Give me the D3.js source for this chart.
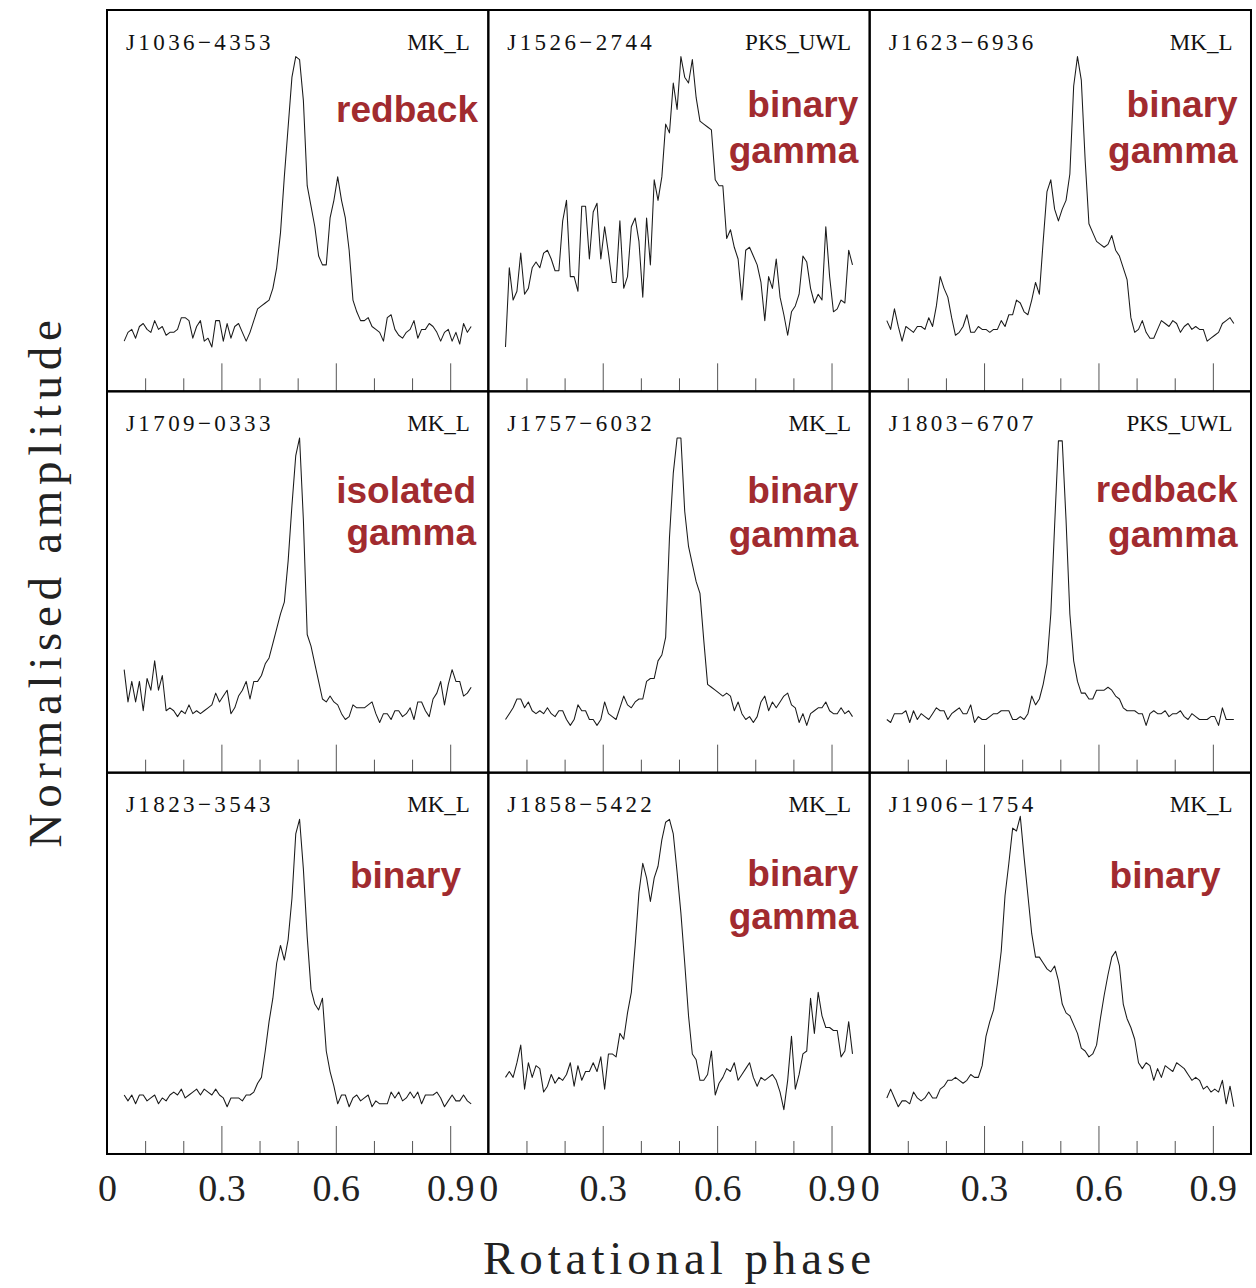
<!DOCTYPE html>
<html><head><meta charset="utf-8">
<script src="https://cdn.jsdelivr.net/npm/d3@7"></script>
<style>body{margin:0;background:#fff}</style>
</head><body>
<svg id="chart" width="1256" height="1288"></svg>
<script>
// ---------------- data ----------------
const pulsars = ["J1036\u22124353","J1526\u22122744","J1623\u22126936","J1709\u22120333","J1757\u22126032","J1803\u22126707","J1823\u22123543","J1858\u22125422","J1906\u22121754"];
const backends = ["MK_L","PKS_UWL","MK_L","MK_L","MK_L","PKS_UWL","MK_L","MK_L","MK_L"];
const classes = [["redback"],["binary","gamma"],["binary","gamma"],["isolated","gamma"],["binary","gamma"],["redback","gamma"],["binary"],["binary","gamma"],["binary"]];
const phaseStart = 0.045, phaseStep = 0.01;
const majorTicks = [0.3,0.6,0.9];
const minorTicks = [0.1,0.2,0.4,0.5,0.7,0.8];
const labelTicks = [0,0.3,0.6,0.9];

const profJ1036 = [0.02,0.05,0.06,0.03,0.07,0.08,0.06,0.05,0.09,0.06,
 0.07,0.04,0.05,0.05,0.06,0.10,0.10,0.09,0.03,0.07,
 0.09,0.02,0.03,0.00,0.09,0.09,0.02,0.08,0.03,0.07,
 0.08,0.05,0.02,0.05,0.09,0.13,0.14,0.15,0.16,0.20,
 0.27,0.39,0.58,0.75,0.92,0.99,0.98,0.84,0.55,0.48,
 0.41,0.31,0.28,0.28,0.44,0.50,0.58,0.50,0.44,0.33,
 0.16,0.12,0.09,0.09,0.10,0.07,0.06,0.05,0.02,0.10,
 0.11,0.06,0.04,0.03,0.05,0.06,0.09,0.03,0.06,0.06,
 0.08,0.07,0.05,0.02,0.05,0.06,0.02,0.05,0.01,0.08,
 0.05,0.07];
const profJ1526 = [0.00,0.27,0.16,0.19,0.32,0.18,0.20,0.27,0.29,0.27,
 0.32,0.33,0.30,0.26,0.26,0.43,0.50,0.24,0.24,0.19,
 0.48,0.48,0.30,0.46,0.49,0.30,0.41,0.32,0.22,0.22,
 0.43,0.20,0.24,0.41,0.44,0.36,0.17,0.44,0.28,0.57,
 0.50,0.58,0.76,0.73,0.90,0.81,0.99,0.92,0.90,0.98,
 0.85,0.77,0.76,0.75,0.74,0.57,0.55,0.55,0.37,0.40,
 0.34,0.30,0.16,0.33,0.34,0.31,0.28,0.22,0.09,0.24,
 0.20,0.30,0.17,0.11,0.04,0.12,0.14,0.18,0.31,0.29,
 0.20,0.15,0.18,0.16,0.41,0.24,0.12,0.13,0.16,0.15,
 0.33,0.28];
const profJ1623 = [0.09,0.06,0.13,0.07,0.02,0.07,0.06,0.05,0.07,0.07,
 0.06,0.10,0.07,0.14,0.24,0.20,0.17,0.10,0.04,0.05,
 0.07,0.11,0.05,0.05,0.07,0.06,0.06,0.05,0.06,0.06,
 0.09,0.07,0.11,0.11,0.16,0.15,0.12,0.11,0.16,0.22,
 0.18,0.36,0.53,0.57,0.47,0.43,0.47,0.50,0.59,0.89,
 0.99,0.91,0.64,0.42,0.39,0.36,0.35,0.34,0.35,0.38,
 0.33,0.31,0.27,0.23,0.10,0.05,0.06,0.09,0.05,0.03,
 0.03,0.06,0.09,0.08,0.07,0.09,0.08,0.05,0.07,0.08,
 0.06,0.07,0.06,0.06,0.02,0.03,0.04,0.05,0.08,0.09,
 0.10,0.08];
const profJ1709 = [0.20,0.09,0.16,0.09,0.16,0.06,0.17,0.13,0.23,0.13,
 0.18,0.06,0.07,0.06,0.04,0.06,0.05,0.08,0.05,0.06,
 0.05,0.06,0.07,0.08,0.12,0.09,0.11,0.13,0.05,0.07,
 0.11,0.13,0.16,0.10,0.16,0.16,0.18,0.22,0.24,0.29,
 0.34,0.39,0.43,0.57,0.76,0.93,0.99,0.71,0.32,0.28,
 0.22,0.16,0.10,0.09,0.11,0.09,0.08,0.05,0.03,0.04,
 0.08,0.07,0.07,0.07,0.08,0.09,0.05,0.02,0.05,0.05,
 0.03,0.06,0.06,0.04,0.05,0.07,0.03,0.09,0.09,0.06,
 0.04,0.10,0.12,0.16,0.08,0.15,0.20,0.16,0.16,0.11,
 0.12,0.14];
const profJ1757 = [0.03,0.05,0.07,0.10,0.10,0.07,0.09,0.06,0.05,0.06,
 0.05,0.07,0.05,0.04,0.06,0.06,0.03,0.01,0.03,0.08,
 0.06,0.06,0.03,0.03,0.01,0.03,0.09,0.05,0.04,0.03,
 0.07,0.11,0.08,0.07,0.09,0.10,0.10,0.16,0.17,0.17,
 0.23,0.25,0.31,0.65,0.87,0.99,0.99,0.74,0.62,0.56,
 0.50,0.46,0.30,0.15,0.14,0.13,0.12,0.11,0.12,0.11,
 0.06,0.09,0.05,0.03,0.04,0.02,0.04,0.09,0.11,0.06,
 0.09,0.07,0.09,0.11,0.12,0.08,0.07,0.02,0.05,0.01,
 0.05,0.06,0.07,0.07,0.09,0.06,0.05,0.05,0.07,0.05,
 0.06,0.04];
const profJ1803 = [0.03,0.02,0.05,0.05,0.05,0.06,0.02,0.06,0.03,0.05,
 0.04,0.03,0.05,0.07,0.06,0.06,0.03,0.05,0.06,0.07,
 0.05,0.05,0.08,0.02,0.04,0.03,0.03,0.04,0.05,0.05,
 0.06,0.06,0.06,0.03,0.03,0.04,0.03,0.05,0.11,0.08,
 0.10,0.15,0.22,0.39,0.69,0.98,0.98,0.71,0.39,0.23,
 0.16,0.12,0.12,0.10,0.10,0.13,0.13,0.13,0.14,0.13,
 0.11,0.10,0.07,0.06,0.06,0.06,0.05,0.05,0.01,0.05,
 0.06,0.05,0.05,0.06,0.04,0.05,0.05,0.06,0.04,0.03,
 0.05,0.04,0.03,0.03,0.03,0.04,0.04,0.01,0.07,0.03,
 0.03,0.03];
const profJ1823 = [0.05,0.03,0.05,0.02,0.05,0.05,0.03,0.04,0.05,0.02,
 0.04,0.03,0.05,0.06,0.05,0.07,0.04,0.05,0.06,0.07,
 0.05,0.07,0.06,0.05,0.07,0.05,0.04,0.01,0.04,0.04,
 0.04,0.03,0.05,0.05,0.06,0.09,0.11,0.20,0.30,0.38,
 0.50,0.56,0.51,0.58,0.72,0.94,0.99,0.82,0.59,0.41,
 0.36,0.34,0.38,0.20,0.13,0.08,0.02,0.05,0.05,0.01,
 0.04,0.05,0.03,0.04,0.05,0.01,0.03,0.02,0.02,0.02,
 0.06,0.04,0.06,0.03,0.04,0.06,0.04,0.06,0.02,0.05,
 0.05,0.05,0.06,0.04,0.01,0.03,0.05,0.03,0.03,0.05,
 0.03,0.02];
const profJ1858 = [0.11,0.13,0.11,0.16,0.22,0.07,0.16,0.11,0.15,0.14,
 0.06,0.08,0.12,0.09,0.11,0.10,0.12,0.16,0.08,0.15,
 0.10,0.13,0.13,0.16,0.13,0.18,0.07,0.19,0.19,0.18,
 0.26,0.24,0.33,0.40,0.56,0.74,0.84,0.79,0.71,0.79,
 0.83,0.92,0.98,0.99,0.94,0.81,0.67,0.50,0.32,0.19,
 0.17,0.10,0.10,0.12,0.20,0.05,0.09,0.11,0.14,0.13,
 0.16,0.10,0.12,0.14,0.16,0.11,0.08,0.11,0.10,0.11,
 0.12,0.10,0.06,0.00,0.10,0.25,0.07,0.12,0.19,0.20,
 0.38,0.26,0.40,0.32,0.28,0.28,0.27,0.27,0.18,0.20,
 0.30,0.19];
const profJ1906 = [0.04,0.07,0.04,0.01,0.03,0.03,0.02,0.06,0.04,0.03,
 0.04,0.06,0.04,0.04,0.07,0.08,0.10,0.10,0.11,0.10,
 0.09,0.10,0.12,0.11,0.11,0.15,0.25,0.30,0.34,0.43,
 0.54,0.73,0.84,0.96,0.95,1.00,0.86,0.73,0.60,0.52,
 0.52,0.50,0.48,0.47,0.49,0.44,0.36,0.33,0.32,0.29,
 0.26,0.21,0.20,0.18,0.19,0.22,0.31,0.39,0.46,0.52,
 0.54,0.49,0.36,0.31,0.28,0.24,0.16,0.14,0.16,0.15,
 0.10,0.14,0.11,0.15,0.14,0.13,0.16,0.15,0.14,0.12,
 0.10,0.11,0.10,0.07,0.08,0.06,0.07,0.06,0.10,0.02,
 0.08,0.01];
const profiles = [profJ1036,profJ1526,profJ1623,profJ1709,profJ1757,profJ1803,profJ1823,profJ1858,profJ1906];

// ---------------- layout (style only) ----------------
const X0 = 107, Y0 = 10, P = 381.33;
const labelLayout = [
  {dx:371, dy:[112]}, {dx:370, dy:[107,153]}, {dx:368, dy:[107,153]},
  {dx:369, dy:[112,154]}, {dx:370, dy:[112,156]}, {dx:368, dy:[111,156]},
  {dx:354, dy:[115]}, {dx:370, dy:[113,156]}, {dx:351, dy:[115]}
];
const red = "#a12b2f";
const serif = "'Liberation Serif','Times New Roman',serif";
const sans = "'Liberation Sans',Arial,Helvetica,sans-serif";

const svg = d3.select("#chart");
const xScales = [0,1,2].map(c => d3.scaleLinear().domain([0,1]).range([X0 + c*P, X0 + (c+1)*P]));
const yScales = [0,1,2].map(r => d3.scaleLinear().domain([0,1]).range([Y0 + r*P + 337, Y0 + r*P + 43.7]));

profiles.forEach((prof, k) => {
  const c = k % 3, r = Math.floor(k / 3);
  const xs = xScales[c], ys = yScales[r];
  const left = X0 + c*P, top = Y0 + r*P, bottom = top + P;
  const g = svg.append("g");

  // profile line
  const line = d3.line().x((d,i) => xs(phaseStart + i*phaseStep)).y(d => ys(d));
  g.append("path").datum(prof).attr("d", line)
    .attr("fill","none").attr("stroke","#1a1a1a").attr("stroke-width",1.05).attr("stroke-linejoin","round");

  // ticks (pointing up from bottom)
  const major = g.append("g").attr("transform",`translate(0,${bottom})`)
    .call(d3.axisBottom(xs).tickValues(majorTicks).tickSize(-28).tickFormat(""));
  const minor = g.append("g").attr("transform",`translate(0,${bottom})`)
    .call(d3.axisBottom(xs).tickValues(minorTicks).tickSize(-13).tickFormat(""));
  [major, minor].forEach(a => {
    a.select(".domain").remove();
    a.selectAll(".tick line").attr("stroke","#555").attr("stroke-width",1);
  });

  // bottom-row tick labels
  if (r === 2) {
    const lab = g.append("g").attr("transform",`translate(0,${bottom})`)
      .call(d3.axisBottom(xs).tickValues(labelTicks).tickSize(0).tickPadding(20)
        .tickFormat(d => d === 0 ? "0" : d.toFixed(1)));
    lab.select(".domain").remove();
    lab.selectAll("text").attr("font-family", serif).attr("font-size", 38).attr("fill","#222");
  }

  // frame
  g.append("rect").attr("x", left).attr("y", top).attr("width", P).attr("height", P)
    .attr("fill","none").attr("stroke","#000").attr("stroke-width",2);

  // pulsar name and backend
  g.append("text").attr("x", left + 19).attr("y", top + 39.5)
    .attr("font-family", serif).attr("font-size", 23).attr("letter-spacing", 3.4)
    .attr("fill","#111").text(pulsars[k]);
  g.append("text").attr("x", left + P - 18.5).attr("y", top + 39.5)
    .attr("text-anchor","end").attr("font-family", serif).attr("font-size", 23)
    .attr("fill","#111").text(backends[k]);

  // class labels
  const L = labelLayout[k];
  classes[k].forEach((t, j) => {
    g.append("text").attr("x", left + L.dx).attr("y", top + L.dy[j])
      .attr("text-anchor","end").attr("font-family", sans).attr("font-weight","bold")
      .attr("font-size", 37).attr("fill", red).text(t);
  });
});

// axis titles
svg.append("text").attr("x", 679.5).attr("y", 1274).attr("text-anchor","middle")
  .attr("font-family", serif).attr("font-size", 47).attr("letter-spacing", 4.9)
  .attr("fill","#222").text("Rotational phase");
svg.append("text").attr("transform","translate(61,581) rotate(-90)").attr("text-anchor","middle")
  .attr("font-family", serif).attr("font-size", 47).attr("letter-spacing", 5.7)
  .attr("fill","#222").text("Normalised amplitude");
</script>
</body></html>
